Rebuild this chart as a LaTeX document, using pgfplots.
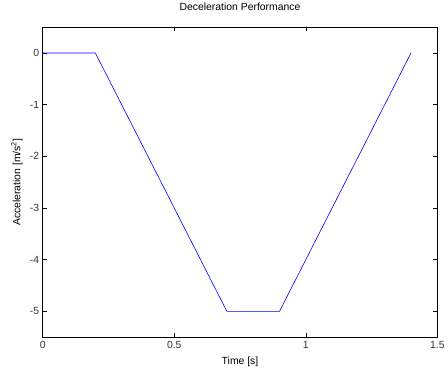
\documentclass[border=0pt]{standalone}
\usepackage{fontspec}
\setmainfont{Liberation Sans}
\usepackage{pgfplots}
\pgfplotsset{compat=1.18}
\begin{document}
\fontsize{10.5}{12}\selectfont
\begin{tikzpicture}
\begin{axis}[
  at={(0,0)}, anchor=south west,
  scale only axis, width=397bp, height=312bp,
  xmin=0, xmax=1.5, ymin=-5.5, ymax=0.5,
  xtick={0,0.5,1,1.5}, ytick={-5,-4,-3,-2,-1,0},
  xticklabels={0,0.5,1,1.5},
  yticklabels={-5,-4,-3,-2,-1,0},
  tick align=inside, major tick length=4bp,
  xtick pos=both, ytick pos=both,
  axis line style={black, line width=0.6bp},
  tick style={black, line width=0.5bp},
  every tick label/.append style={font=\fontsize{10.5}{12}\selectfont, text=black!80},
  /pgf/number format/assume math mode=true,
  title={Deceleration Performance},
  title style={at={(axis description cs:0.5,1)}, anchor=center, yshift=14bp, font=\fontsize{10.5}{12}\selectfont},
  xlabel={Time [s]},
  xlabel style={at={(axis description cs:0.5,0)}, anchor=center, yshift=-25bp, font=\fontsize{10.5}{12}\selectfont},
  every axis y label/.style={at={(axis description cs:0,0.5)}, anchor=center, rotate=90, yshift=26bp, font=\fontsize{10.5}{12}\selectfont},
  ylabel={Acceleration [m/s\textsuperscript{2}]},
]
\addplot[blue, line width=0.6bp] coordinates {(0,0) (0.2,0) (0.7,-5) (0.9,-5) (1.4,0)};
\end{axis}
\path (-43bp,-39bp) rectangle (405bp,335bp);
\end{tikzpicture}
\end{document}
